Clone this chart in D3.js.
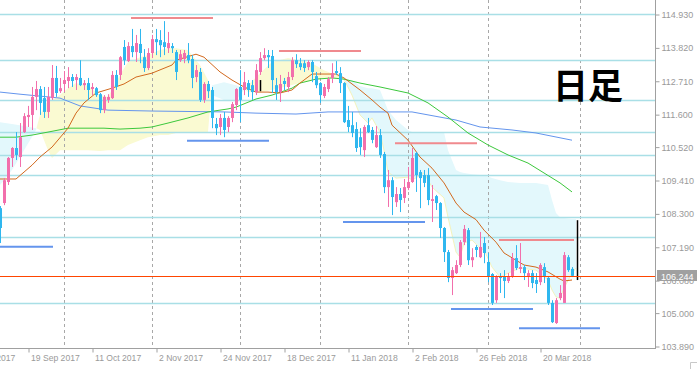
<!DOCTYPE html>
<html>
<head>
<meta charset="utf-8">
<script src="https://cdn.jsdelivr.net/npm/d3@7"></script>
<style>
  body { margin: 0; background: #fff; }
  svg { display: block; }
</style>
</head>
<body>
<svg id="chart" width="697" height="369"></svg>
<script>
// daily USDJPY candles, bar index 0..143 (bar 7 = 19 Sep 2017)
const opens = [
  108.49,108.66,109.36,110.16,110.49,110.19,111.02,111.52,111.59,112.19,
  112.45,112.15,111.69,112.15,112.82,112.38,112.62,112.72,112.85,112.75,
  112.82,112.58,112.65,112.45,112.48,112.28,111.75,112.09,112.15,112.92,
  112.92,113.85,113.38,113.88,113.68,113.95,113.51,113.15,113.65,114.11,
  114.08,114.01,113.81,113.88,113.68,113.41,113.45,113.58,113.45,112.85,
  113.02,112.09,112.62,112.42,111.29,111.19,111.49,111.19,111.49,111.92,
  112.52,112.42,112.65,112.58,112.35,113.02,113.48,113.58,113.55,112.58,
  112.35,112.72,112.52,112.85,113.41,113.31,113.31,113.18,113.35,112.88,
  112.65,112.22,112.45,112.82,113.05,112.98,112.65,111.42,111.25,111.12,
  110.85,110.42,111.25,111.09,110.52,110.92,110.29,109.19,109.42,108.69,
  108.96,108.83,109.16,109.36,110.32,109.69,109.59,109.59,108.73,108.89,
  108.66,107.83,107.03,106.17,106.33,106.60,107.36,107.76,106.76,107.20,
  106.86,107.33,106.70,106.30,105.43,106.20,106.20,106.07,106.23,106.83,
  106.47,106.53,106.20,106.33,106.10,106.03,106.53,106.17,105.34,104.67,
  105.50,105.34,106.86,106.47
];
const highs = [
  108.56,109.49,110.19,110.52,111.02,111.32,111.65,111.89,112.52,112.72,
  112.55,112.52,112.52,113.25,113.22,112.82,113.05,113.18,112.95,112.95,
  113.41,112.75,112.82,112.65,112.52,112.32,112.25,112.28,113.05,113.08,
  113.55,114.08,114.01,114.45,114.25,114.45,113.78,113.81,114.25,114.45,
  114.41,114.71,114.35,113.98,113.75,113.75,113.75,113.98,113.58,113.25,
  113.15,112.68,112.72,112.52,111.49,111.62,111.69,111.55,112.02,112.48,
  113.08,113.02,112.75,112.75,113.28,113.68,113.81,113.75,113.75,112.82,
  112.92,112.82,113.02,113.51,113.61,113.48,113.41,113.41,113.41,113.02,
  112.68,112.62,112.85,113.31,113.38,113.18,112.68,111.89,111.69,111.35,
  111.15,111.25,111.49,111.19,111.22,111.12,110.36,109.76,109.52,109.19,
  109.16,109.46,109.86,110.49,110.36,109.76,109.76,109.82,109.26,108.93,
  108.69,107.86,107.10,106.53,106.76,107.43,107.93,107.83,107.16,107.26,
  107.70,107.53,107.00,106.33,106.26,106.33,106.43,106.33,107.00,107.26,
  107.33,106.60,106.43,106.43,106.33,106.66,106.66,106.20,105.43,105.50,
  105.93,107.03,106.93,106.53
];
const lows = [
  107.33,108.59,109.26,109.86,110.09,109.86,110.99,111.19,111.09,111.75,
  111.59,111.49,111.49,112.09,112.19,112.32,112.35,112.48,112.52,112.42,
  112.55,112.42,112.09,112.25,112.19,111.65,111.65,111.99,112.12,112.42,
  112.75,113.25,113.35,113.51,113.35,113.31,113.02,113.08,113.48,113.58,
  113.51,113.58,113.65,113.65,112.75,113.35,113.31,113.31,112.48,112.68,
  112.02,111.99,112.15,111.15,110.92,110.92,110.85,111.02,111.35,111.75,
  111.35,112.25,112.19,112.09,112.25,112.92,113.41,113.15,112.32,112.09,
  112.02,112.42,112.35,112.75,113.15,113.08,113.02,113.08,112.68,112.48,
  111.99,112.15,112.35,112.65,112.92,112.32,111.32,111.02,110.85,110.36,
  110.26,110.19,110.99,110.65,110.49,110.16,108.99,108.53,108.26,108.53,
  108.36,108.66,109.09,109.33,109.03,108.49,109.19,108.59,108.03,108.43,
  107.50,106.70,106.03,105.60,106.30,106.53,107.26,106.60,106.53,106.86,
  106.83,106.66,106.03,105.27,105.34,105.67,105.50,106.00,106.17,106.43,
  106.33,106.10,105.87,105.83,105.67,105.93,106.00,105.27,104.67,104.64,
  105.43,105.34,106.37,106.20
];
const closes = [
  107.83,109.42,110.16,110.49,110.26,110.85,111.55,111.59,112.19,112.45,
  111.99,111.69,112.19,112.82,112.32,112.48,112.75,112.85,112.72,112.85,
  112.58,112.65,112.42,112.52,112.25,111.75,112.19,112.19,112.92,112.52,
  113.51,113.41,113.88,113.68,113.98,113.65,113.15,113.65,114.11,114.01,
  113.91,113.85,113.98,113.81,113.02,113.61,113.65,113.41,112.82,113.08,
  112.09,112.62,112.38,111.49,111.15,111.49,111.09,111.49,111.95,112.45,
  112.09,112.68,112.42,112.35,113.08,113.48,113.58,113.51,112.75,112.35,
  112.62,112.62,112.85,113.41,113.28,113.18,113.15,113.35,113.02,112.58,
  112.25,112.52,112.78,112.98,112.98,112.65,111.35,111.19,110.99,110.49,
  110.52,111.19,111.02,110.76,110.92,110.26,109.19,109.42,108.86,108.96,
  108.76,109.19,109.36,110.16,109.59,109.49,109.33,108.76,108.79,108.66,
  107.83,107.03,106.17,106.43,106.60,107.36,107.80,106.76,106.86,107.10,
  107.20,107.00,106.20,105.34,106.20,106.17,106.07,106.20,106.83,106.50,
  106.53,106.33,106.33,106.00,105.97,106.60,106.20,105.34,104.70,105.43,
  105.67,106.93,106.43,106.24
];

// moving averages: [bar, price]
const maShort = [
  [0,109.46],[4,109.46],[6,109.69],[8,109.92],[10,110.19],[13,110.52],[17,111.15],[19,111.65],
  [21,111.99],[24,112.32],[28,112.48],[31,112.62],[34,112.85],[38,112.98],[43,113.25],[44,113.41],
  [49,113.61],[51,113.51],[55,113.02],[58,112.75],[61,112.52],[64,112.35],[67,112.35],[70,112.32],
  [73,112.42],[75,112.65],[78,112.95],[82,112.95],[84,112.95],[86,112.82],[90,112.42],[93,112.09],
  [95,111.85],[97,111.65],[98,111.25],[102,110.75],[105,110.19],[108,109.82],[111,109.33],[114,108.66],
  [116,108.36],[119,108.11],[121,107.76],[124,107.36],[126,107.00],[129,106.76],[131,106.60],[134,106.53],
  [137,106.37],[140,106.13],[141,106.07],[143,106.10]
];
const maMid = [
  [0,110.85],[4,110.85],[8,110.92],[12,111.02],[17,111.15],[20,111.15],[26,111.15],[30,111.12],
  [35,111.15],[38,111.19],[42,111.32],[47,111.49],[52,111.69],[57,111.79],[59,111.85],[64,112.12],
  [68,112.25],[73,112.48],[75,112.65],[79,112.78],[83,112.82],[86,112.78],[90,112.65],[95,112.52],
  [102,112.32],[107,111.99],[112,111.52],[117,110.99],[122,110.59],[127,110.26],[132,109.99],[136,109.66],
  [140,109.33],[143,109.03]
];
const maLong = [
  [0,112.35],[5,112.28],[12,112.19],[15,112.15],[20,111.89],[27,111.75],[38,111.72],[56,111.69],
  [64,111.65],[74,111.62],[82,111.69],[92,111.69],[103,111.69],[114,111.42],[120,111.19],[128,111.09],
  [134,110.99],[143,110.75]
];

// cloud edges
const cloudBars = [0,3,6,9,10,12,13,15,17,19,22,25,27,30,32,35,37,40,42,44,47,49,50,52,53,56,59,61,62,65,68,72,75,78,81,84,86,88,90,92,93,95,96,97,99,102,103,106,108,111,112,114,115,116,118,120,121,123,125,127,130,134,137,138,139,140,141,143,144];
const spanA = [109.26,109.76,110.42,111.09,111.59,112.09,112.09,112.25,112.48,112.65,112.55,112.25,112.19,112.92,113.35,113.51,113.58,113.75,113.81,113.81,113.75,113.41,113.25,112.75,112.25,112.09,112.09,112.42,112.58,112.98,113.35,113.48,113.41,113.31,113.08,112.92,112.78,112.25,111.59,111.32,111.49,111.02,110.42,109.69,109.49,109.52,109.42,109.66,109.19,108.83,108.19,107.03,106.86,107.33,107.43,107.16,107.10,106.53,106.20,106.33,106.50,106.43,106.10,105.77,105.54,105.50,105.83,106.33,106.50];
const spanB = [111.35,111.29,111.22,111.15,111.09,110.42,110.16,110.42,110.42,110.42,110.42,110.39,110.42,110.42,110.59,110.75,110.85,110.92,110.92,110.99,110.99,111.02,111.02,111.02,112.58,112.68,112.58,112.48,112.35,112.35,112.42,112.55,112.65,112.75,112.82,112.82,112.78,112.75,112.55,112.48,112.48,112.42,112.09,111.75,111.42,111.09,111.02,111.02,111.02,111.02,110.42,109.76,109.69,109.66,109.62,109.59,109.59,109.49,109.42,109.36,109.33,109.33,109.26,108.76,108.33,108.19,108.16,108.13,108.13];

// drawn horizontal levels
const levelPrices = [114.94, 113.42, 112.09, 111.02, 110.26, 109.59, 108.19, 107.53, 105.34];
const resistance = [[32.75,53.25,114.81],[69.75,90.25,113.72],[98.75,119.25,110.65],[124.75,143.5,107.43]];
const support = [[0,13.25,107.21],[46.75,67.25,110.73],[85.75,106.25,108.03],[112.75,133.25,105.14],[129.75,150,104.50]];
const rangeMarks = [[65,112.38,112.75],[144.2,106.10,108.09]];

const lastPrice = 106.244;
const priceTicks = [114.930,113.820,112.710,111.600,110.520,109.410,108.300,107.190,106.080,105.000,103.890];
const dateTickBars = [-9,7,23,39,55,71,87,103,119,135];
const dateTickLabels = ["28 Aug 2017","19 Sep 2017","11 Oct 2017","2 Nov 2017","24 Nov 2017",
  "18 Dec 2017","11 Jan 2018","2 Feb 2018","26 Feb 2018","20 Mar 2018"];
const monthStartBars = [16,38,60,80,102,122,145];
const title = "日足";

const plotW = 655, plotH = 348;
const svg = d3.select("#chart");

const x = d3.scaleLinear().domain([0, plotW / 4]).range([0, plotW]);
const y = d3.scaleLinear().domain([103.89, 114.93]).range([346.5, 14.5]);
const px = v => Math.round(x(v));

svg.append("defs").append("clipPath").attr("id", "plotClip")
  .append("rect").attr("width", plotW).attr("height", plotH);

const plot = svg.append("g").attr("clip-path", "url(#plotClip)");

// split the cloud into runs where one span stays above the other
function cloudRuns() {
  const pts = cloudBars.map((b, i) => ({b: b, a: spanA[i], s: spanB[i]}));
  const runs = [];
  let cur = {up: pts[0].a >= pts[0].s, pts: [pts[0]]};
  for (let i = 1; i < pts.length; i++) {
    const p0 = pts[i - 1], p1 = pts[i];
    const d0 = p0.a - p0.s, d1 = p1.a - p1.s;
    const up1 = d1 === 0 ? cur.up : d1 > 0;
    if (up1 !== cur.up) {
      const t = d0 / (d0 - d1);
      const mid = {b: p0.b + t * (p1.b - p0.b), a: p0.a + t * (p1.a - p0.a)};
      mid.s = mid.a;
      cur.pts.push(mid);
      runs.push(cur);
      cur = {up: up1, pts: [mid]};
    }
    cur.pts.push(p1);
  }
  runs.push(cur);
  return runs;
}

const band = d3.area().x(d => x(d.b)).y0(d => y(d.s)).y1(d => y(d.a));
plot.selectAll(".cloud").data(cloudRuns()).enter().append("path")
  .attr("d", d => band(d.pts))
  .attr("fill", d => d.up ? "#fafad2" : "#e3f8fc");

plot.append("path")
  .attr("d", d3.line().x(d => x(d[0])).y(d => y(d[1]))(
    cloudBars.map((b, i) => [b, spanA[i]]).filter(d => d[0] >= 84)))
  .attr("fill", "none").attr("stroke", "#f3f3bd").attr("stroke-width", 1);

// month separators
plot.selectAll(".sep").data(monthStartBars).enter().append("line")
  .attr("x1", d => px(d) + 0.5).attr("x2", d => px(d) + 0.5)
  .attr("y1", 0).attr("y2", plotH)
  .attr("stroke", "#a8a8a8").attr("stroke-dasharray", "3,3");

// horizontal levels
plot.selectAll(".lvl").data(levelPrices).enter().append("line")
  .attr("x1", 0).attr("x2", plotW)
  .attr("y1", d => Math.round(y(d)) + 0.5).attr("y2", d => Math.round(y(d)) + 0.5)
  .attr("stroke", "#a9dfe6").attr("stroke-width", 1.4);

// moving averages
const maLine = d3.line().x(d => x(d[0])).y(d => y(d[1]));
[[maLong, "#6495ed"], [maMid, "#3cc83c"], [maShort, "#d2691e"]].forEach(([data, col]) => {
  plot.append("path").attr("d", maLine(data))
    .attr("fill", "none").attr("stroke", col).attr("stroke-width", 1);
});

// candles
const bars = d3.range(opens.length);
const up = "#f26fac", down = "#2fb7ef";
const candle = plot.selectAll(".c").data(bars).enter().append("g");
candle.append("line")
  .attr("x1", i => px(i) + 0.5).attr("x2", i => px(i) + 0.5)
  .attr("y1", i => y(highs[i])).attr("y2", i => y(lows[i]))
  .attr("stroke", i => closes[i] >= opens[i] ? up : down).attr("stroke-width", 1);
candle.append("rect")
  .attr("x", i => px(i) - 1)
  .attr("width", 3)
  .attr("y", i => y(Math.max(opens[i], closes[i])))
  .attr("height", i => Math.max(1, Math.abs(y(opens[i]) - y(closes[i]))))
  .attr("fill", i => closes[i] >= opens[i] ? up : down);

// small black range marks
plot.selectAll(".rm").data(rangeMarks).enter().append("line")
  .attr("x1", d => px(d[0]) + 0.5).attr("x2", d => px(d[0]) + 0.5)
  .attr("y1", d => y(d[2])).attr("y2", d => y(d[1]))
  .attr("stroke", "#000").attr("stroke-width", 1.5);

// support / resistance segments
const seg = (data, col) => plot.selectAll(null).data(data).enter().append("line")
  .attr("x1", d => x(d[0])).attr("x2", d => x(d[1]))
  .attr("y1", d => y(d[2])).attr("y2", d => y(d[2]))
  .attr("stroke", col).attr("stroke-width", 2);
seg(resistance, "#f08a8e");
seg(support, "#6495ed");

// last price line
plot.append("line")
  .attr("x1", 0).attr("x2", plotW)
  .attr("y1", Math.round(y(lastPrice)) + 0.5).attr("y2", Math.round(y(lastPrice)) + 0.5)
  .attr("stroke", "#ff4500").attr("stroke-width", 1.2);

// title
svg.append("text")
  .attr("x", 588).attr("y", 99)
  .attr("text-anchor", "middle")
  .style("font-family", "'Noto Sans CJK JP', sans-serif")
  .style("font-weight", "bold").style("font-size", "35px")
  .attr("fill", "#000").text(title);

// axes
const axisCol = "#a0a0a0";
const yAxis = d3.axisRight(y).tickValues(priceTicks).tickFormat(d3.format(".3f"))
  .tickSize(4).tickSizeOuter(0);
const yg = svg.append("g").attr("transform", `translate(${plotW + 0.5},0)`).call(yAxis);
yg.select(".domain").remove();
yg.selectAll("line").attr("stroke", axisCol);
yg.selectAll("text").attr("x", 6).attr("fill", "#9a9a9a")
  .style("font-family", "'Liberation Sans', Arial, sans-serif").style("font-size", "9px");

const xAxis = d3.axisBottom(x).tickValues(dateTickBars)
  .tickFormat((d, i) => dateTickLabels[i]).tickSize(4).tickSizeOuter(0);
const xg = svg.append("g").attr("transform", `translate(0.5,${plotH + 0.5})`).call(xAxis);
xg.select(".domain").remove();
xg.selectAll("line").attr("stroke", axisCol);
xg.selectAll("text").attr("text-anchor", "start").attr("x", 2).attr("y", 6)
  .attr("fill", "#9a9a9a")
  .style("font-family", "'Liberation Sans', Arial, sans-serif").style("font-size", "8.6px");

svg.append("line").attr("x1", plotW + 0.5).attr("x2", plotW + 0.5).attr("y1", 0).attr("y2", plotH + 1)
  .attr("stroke", axisCol);
svg.append("line").attr("x1", 0).attr("x2", plotW + 1).attr("y1", plotH + 0.5).attr("y2", plotH + 0.5)
  .attr("stroke", axisCol);

// last price tag
const tagY = Math.round(y(lastPrice));
svg.append("rect").attr("x", plotW + 2).attr("y", tagY - 6).attr("width", 40).attr("height", 11)
  .attr("fill", "#a0a0a0");
svg.append("text").attr("x", plotW + 6).attr("y", tagY + 3.5)
  .attr("fill", "#fff")
  .style("font-family", "'Liberation Sans', Arial, sans-serif").style("font-size", "9px")
  .text(d3.format(".3f")(lastPrice));

// corner mark
svg.append("path").attr("d", "M690.5,369 V362.5 H697").attr("fill", "none").attr("stroke", "#c8c8c8");
</script>
</body>
</html>
